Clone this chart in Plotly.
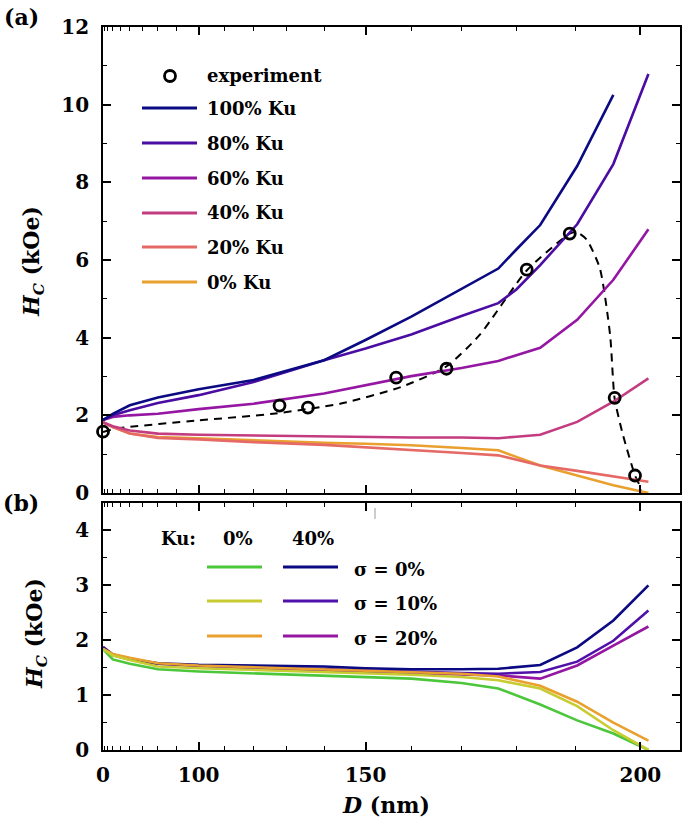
import plotly.graph_objects as go

# ---------------- data ----------------
# panel (a): coercivity vs diameter for several Ku fractions
D_a = [0, 40, 60, 80, 100, 120, 140, 150, 160, 170, 176.8, 180, 184.1, 190.2, 195.9, 201.2]
hc_ku100 = [1.88, 2.04, 2.26, 2.46, 2.67, 2.91, 3.42, 3.94, 4.54, 5.25, 5.78, 6.27, 6.90, 8.42, 10.25, None]
hc_ku80 = [1.88, 2.00, 2.13, 2.32, 2.52, 2.86, 3.42, 3.72, 4.08, 4.56, 4.89, 5.24, 5.87, 6.92, 8.47, 10.79]
hc_ku60 = [1.88, 1.96, 2.00, 2.04, 2.16, 2.30, 2.56, 2.78, 3.01, 3.22, 3.40, 3.55, 3.74, 4.46, 5.49, 6.79]
hc_ku40 = [1.82, 1.72, 1.61, 1.53, 1.50, 1.48, 1.46, 1.45, 1.43, 1.43, 1.41, 1.45, 1.50, 1.83, 2.35, 2.95]
hc_ku20 = [1.82, 1.70, 1.53, 1.42, 1.38, 1.31, 1.24, 1.18, 1.12, 1.03, 0.97, 0.86, 0.71, 0.57, 0.42, 0.29]
hc_ku0 = [1.82, 1.70, 1.53, 1.44, 1.41, 1.35, 1.29, 1.27, 1.23, 1.16, 1.10, 0.93, 0.71, 0.45, 0.20, 0.0]

exp_D = [0, 127.9, 135.8, 156.8, 167.1, 181.8, 189.0, 196.1, 199.2]
exp_H = [1.58, 2.25, 2.20, 2.97, 3.20, 5.75, 6.68, 2.45, 0.45]

fit_D = [0, 45, 100, 126, 144, 157.6, 167, 173.4, 181.8, 189.0, 190.1, 191.7, 193.8, 195.4, 196.1, 197.4, 199.2, 199.9, 200.1]
fit_H = [1.57, 1.66, 1.87, 2.04, 2.30, 2.72, 3.25, 4.07, 5.73, 6.68, 6.72, 6.53, 5.79, 4.07, 2.43, 1.48, 0.45, 0.19, 0.0]

# panel (b): Ku 0% / 40% with size dispersion sigma
D_b = [0, 40, 60, 80, 100, 120, 140, 150, 160, 170, 176.8, 184.1, 190.2, 195.9, 201.2]
hc_k0_s0 = [1.84, 1.65, 1.57, 1.47, 1.43, 1.40, 1.36, 1.33, 1.30, 1.22, 1.12, 0.83, 0.54, 0.30, 0.0]
hc_k0_s10 = [1.84, 1.72, 1.64, 1.52, 1.49, 1.46, 1.42, 1.39, 1.37, 1.33, 1.27, 1.12, 0.80, 0.36, 0.0]
hc_k0_s20 = [1.84, 1.75, 1.68, 1.58, 1.54, 1.51, 1.47, 1.44, 1.42, 1.39, 1.34, 1.17, 0.88, 0.50, 0.17]
hc_k40_s0 = [1.86, 1.74, 1.66, 1.58, 1.55, 1.54, 1.52, 1.49, 1.47, 1.47, 1.48, 1.55, 1.87, 2.36, 3.00]
hc_k40_s10 = [1.86, 1.73, 1.65, 1.57, 1.54, 1.51, 1.47, 1.44, 1.42, 1.40, 1.39, 1.42, 1.61, 1.99, 2.54]
hc_k40_s20 = [1.88, 1.74, 1.65, 1.57, 1.53, 1.49, 1.44, 1.42, 1.40, 1.38, 1.36, 1.30, 1.54, 1.90, 2.25]

x_major = [0, 100, 150, 200]
x_minor = [10, 20, 30, 40, 50, 60, 70, 80, 90, 110, 120, 130, 140, 160, 170, 180, 190]

# ---------------- styling ----------------
P = 2.49          # the D axis of the reference is a power (D^2.49) scale
def X(d):
    return None if d is None else (d / 100.0) ** P

C100, C80, C60, C40, C20, C0 = "#0b0a82", "#4a0ca2", "#9416a2", "#c43c80", "#e56a66", "#e9a02e"
CG, CY, CO = "#4cc63a", "#c9cc30", "#e9a02e"
CN, CV, CP = "#0b0a82", "#5010aa", "#9416a2"
LW = 2.6
FONT = "DejaVu Serif"

fig = go.Figure()

def line(xs, ys, color, xa, ya):
    fig.add_trace(go.Scatter(x=[X(d) for d in xs], y=ys, mode="lines",
                             line=dict(color=color, width=LW), xaxis=xa, yaxis=ya,
                             showlegend=False, hoverinfo="skip"))

# panel (a)
fig.add_trace(go.Scatter(x=[X(d) for d in fit_D], y=fit_H, mode="lines",
                         line=dict(color="black", width=2, dash="8px,6px", shape="spline", smoothing=0.6),
                         xaxis="x2", yaxis="y2", showlegend=False))
for ys, c in [(hc_ku0, C0), (hc_ku20, C20), (hc_ku40, C40), (hc_ku60, C60), (hc_ku80, C80), (hc_ku100, C100)]:
    line(D_a, ys, c, "x2", "y2")
fig.add_trace(go.Scatter(x=[X(d) for d in exp_D], y=exp_H, mode="markers",
                         marker=dict(symbol="circle-open", size=11, color="black", line=dict(width=2.8, color="black")),
                         xaxis="x2", yaxis="y2", showlegend=False, cliponaxis=False))

# panel (b)
for ys, c in [(hc_k40_s20, CP), (hc_k40_s10, CV), (hc_k40_s0, CN), (hc_k0_s0, CG), (hc_k0_s20, CO), (hc_k0_s10, CY)]:
    line(D_b, ys, c, "x", "y")

# ---------------- axes ----------------
W, H = 685, 831
ML, MR, MT, MB = 103, 5, 27, 81
PW, PH = W - ML - MR, H - MT - MB
def px(x):
    return (x - ML) / PW
def py(y):
    return (H - MB - y) / PH

common = dict(showline=True, linecolor="black", linewidth=1.8, mirror="allticks",
              ticks="inside", ticklen=8, tickwidth=1.6, tickcolor="black",
              showgrid=False, zeroline=False, automargin=False,
              tickfont=dict(family=FONT, size=20, color="black", weight="bold"))
minor_common = dict(ticks="inside", ticklen=4, tickwidth=1.3, tickcolor="black", showgrid=False)

xr = [0, X(205.8)]
fig.update_layout(
    width=W, height=H, margin=dict(l=ML, r=MR, t=MT, b=MB),
    plot_bgcolor="white", paper_bgcolor="white", showlegend=False,
    font=dict(family=FONT, size=20, color="black", weight="bold"),
    xaxis=dict(common, domain=[0, 1], range=xr, anchor="y",
               tickmode="array", tickvals=[X(d) for d in x_major], ticktext=[str(d) for d in x_major],
               minor=dict(minor_common, tickmode="array", tickvals=[X(d) for d in x_minor]),
               ticklabelstandoff=6),
    xaxis2=dict(common, domain=[0, 1], range=xr, anchor="y2", matches="x", showticklabels=False,
                tickmode="array", tickvals=[X(d) for d in x_major],
                minor=dict(minor_common, tickmode="array", tickvals=[X(d) for d in x_minor])),
    yaxis=dict(common, domain=[0, py(503)], range=[0, 4.5], anchor="x",
               tickmode="array", tickvals=[0, 1, 2, 3, 4],
               minor=dict(minor_common, tickmode="array", tickvals=[0.5, 1.5, 2.5, 3.5]),
               ticklabelstandoff=8),
    yaxis2=dict(common, domain=[py(493), 1], range=[0, 12], anchor="x2",
                tickmode="array", tickvals=[0, 2, 4, 6, 8, 10, 12],
                minor=dict(minor_common, tickmode="array", tickvals=[1, 3, 5, 7, 9, 11]),
                ticklabelstandoff=8),
)

# ---------------- legends & labels ----------------
shapes, ann = [], []
def txt(x, y, s, anchor="left", size=18, angle=0):
    ann.append(dict(x=px(x), y=py(y), xref="paper", yref="paper", text=s, showarrow=False,
                    xanchor=anchor, yanchor="middle", textangle=angle,
                    font=dict(family=FONT, size=size, color="black", weight="bold")))
def seg(x0, x1, y, color):
    shapes.append(dict(type="line", xref="paper", yref="paper", x0=px(x0), x1=px(x1), y0=py(y), y1=py(y),
                       line=dict(color=color, width=3)))

# axis titles
txt(33, 262, "<i>H</i><sub><i>C</i></sub> (kOe)", "center", 22, -90)
txt(36, 634, "<i>H</i><sub><i>C</i></sub> (kOe)", "center", 22, -90)
txt(386, 805, "<i>D</i> (nm)", "center", 22)

# panel (a) legend
r = 5.5
shapes.append(dict(type="circle", xref="paper", yref="paper",
                   x0=px(170 - r), x1=px(170 + r), y0=py(76 + r), y1=py(76 - r),
                   line=dict(color="black", width=2.8)))
txt(205, 76, "experiment")
for yy, c, lab in [(108, C100, "100% Ku"), (143, C80, "80% Ku"), (178, C60, "60% Ku"),
                   (213, C40, "40% Ku"), (247, C20, "20% Ku"), (282, C0, "0% Ku")]:
    seg(142, 197, yy, c)
    txt(205, yy, lab)

# panel (b) legend
txt(178, 538, "Ku:", "center")
txt(238, 538, "0%", "center")
txt(313, 538, "40%", "center")
for yy, c1, c2, lab in [(567, CG, CN, "σ = 0%"), (601, CY, CV, "σ = 10%"), (636, CO, CP, "σ = 20%")]:
    seg(207, 262, yy, c1)
    seg(283, 338, yy, c2)
    txt(352, yy + 2, lab)

# stray tick mark seen in the reference
shapes.append(dict(type="line", xref="paper", yref="paper", x0=px(375), x1=px(375), y0=py(508), y1=py(519),
                   line=dict(color="#9a9a9a", width=1)))

txt(21, 17, "(a)", "center", 22)
txt(21, 503, "(b)", "center", 22)

fig.update_layout(shapes=shapes, annotations=ann)
fig.write_html("out.html", config={"displayModeBar": False},
               post_script="document.body.style.margin='0px';document.body.style.overflow='hidden';")
